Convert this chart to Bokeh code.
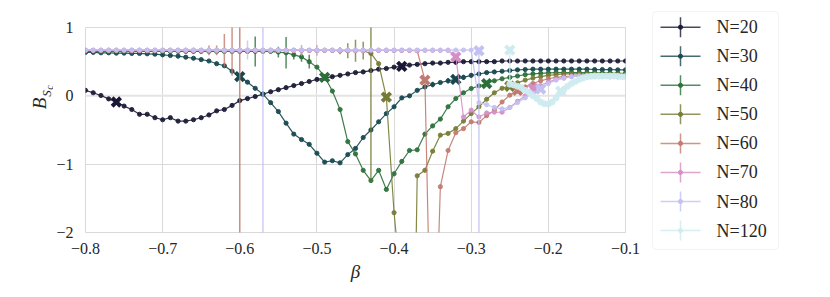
import numpy as np
from bokeh.plotting import figure
from bokeh.layouts import row, column
from bokeh.models import ColumnDataSource, Span, FixedTicker, Range1d, BoxAnnotation
from bokeh.embed import file_html
from bokeh.resources import INLINE
from bokeh.core.properties import value

# ---------------- data ----------------
BETA = [round(-0.80 + 0.01 * i, 2) for i in range(71)]   # beta grid -0.80 ... -0.10

B20 = [0.08, 0.045, 0.005, -0.045, -0.09, -0.15, -0.20, -0.27, -0.27, -0.32,
       -0.35, -0.32, -0.37, -0.37, -0.35, -0.32, -0.28, -0.22, -0.20, -0.14,
       -0.07, -0.04, -0.01, 0.025, 0.06, 0.09, 0.12, 0.15, 0.18, 0.21,
       0.24, 0.26, 0.28, 0.30, 0.32, 0.34, 0.35, 0.37, 0.39, 0.40,
       0.42, 0.43, 0.45, 0.46, 0.47, 0.48, 0.48, 0.49, 0.49, 0.50,
       0.50, 0.50, 0.50, 0.50, 0.51, 0.51, 0.51, 0.51, 0.51, 0.51,
       0.51, 0.51, 0.51, 0.51, 0.51, 0.51, 0.51, 0.51, 0.51, 0.51, 0.51]
B30 = [0.635, 0.635, 0.63, 0.63, 0.625, 0.625, 0.62, 0.62, 0.615, 0.61,
       0.60, 0.59, 0.58, 0.565, 0.55, 0.53, 0.51, 0.47, 0.44, 0.36,
       0.28, 0.20, 0.11, 0.025, -0.10, -0.23, -0.40, -0.56, -0.64, -0.71,
       -0.84, -0.97, -0.95, -0.98, -0.86, -0.77, -0.61, -0.50, -0.38, -0.26,
       -0.16, -0.03, 0.0, 0.08, 0.13, 0.165, 0.195, 0.22, 0.24, 0.27,
       0.30, 0.32, 0.34, 0.35, 0.36, 0.37, 0.38, 0.385, 0.39, 0.39,
       0.39, 0.39, 0.39, 0.39, 0.39, 0.39, 0.385, 0.385, 0.385, 0.38, 0.38]
B40 = [0.65] * 20 + \
      [0.65, 0.65, 0.65, 0.65, 0.65, 0.64, 0.63, 0.60, 0.57, 0.50,
       0.42, 0.28, 0.07, -0.20, -0.67, -0.85, -1.09, -1.24, -1.09, -1.37,
       -1.14, -0.96, -0.80, -0.79, -0.56, -0.44, -0.34, -0.16, -0.04, 0.045,
       0.107, 0.146, 0.18, 0.22, 0.25, 0.27, 0.29, 0.31, 0.32, 0.33,
       0.335, 0.34, 0.34, 0.34, 0.34, 0.34, 0.34, 0.335, 0.335, 0.33, 0.33]
B50 = [0.665] * 30 + \
      [0.665, 0.665, 0.665, 0.66, 0.66, 0.66, 0.66, 0.62, 0.47, -0.02,
       -1.71, -2.9, -8.0, -1.17, -1.09, -0.81, -0.575, -0.55, -0.48, -0.37,
       -0.26, -0.16, -0.05, 0.045, 0.11, 0.15, 0.19, 0.23, 0.26, 0.28,
       0.30, 0.31, 0.32, 0.32, 0.32, 0.32, 0.32, 0.31, 0.31, 0.31, 0.31]
B60 = [0.665] * 40 + \
      [0.665, 0.665, 0.665, 0.66, 0.23, -4.96, -1.33, -0.80, -0.54, -0.48,
       -0.38, -0.39, -0.29, -0.21, -0.09, 0.01, 0.07, 0.13, 0.18, 0.22,
       0.25, 0.27, 0.28, 0.29, 0.29, 0.29, 0.29, 0.29, 0.28, 0.28, 0.28]
B70 = [0.665] * 48 + \
      [0.58, -0.31, -0.21, -0.31, -0.25, -0.24, -0.24, -0.17, -0.08, 0.0, 0.08, 0.15,
       0.20, 0.24, 0.26, 0.28, 0.29, 0.29, 0.29, 0.29, 0.28, 0.28, 0.28]
B80 = [0.67] * 51 + \
      [-0.10, -0.13, -0.17, -0.19, -0.17, -0.10, -0.03, 0.04, 0.11,
       0.18, 0.23, 0.26, 0.28, 0.29, 0.29, 0.29, 0.29, 0.28, 0.28, 0.28]

BETA120 = [-0.25, -0.245, -0.24, -0.235, -0.23, -0.225, -0.22, -0.215, -0.21, -0.205,
           -0.20, -0.195, -0.19, -0.185, -0.18, -0.175, -0.17, -0.165, -0.16, -0.155,
           -0.15, -0.145, -0.14, -0.135, -0.13, -0.125, -0.12, -0.115, -0.11, -0.105, -0.10]
B120 = [0.17, 0.16, 0.14, 0.12, 0.08, 0.05, 0.0, -0.04, -0.09, -0.115,
        -0.12, -0.09, -0.03, 0.04, 0.09, 0.14, 0.18, 0.21, 0.24, 0.26,
        0.28, 0.285, 0.29, 0.29, 0.29, 0.29, 0.29, 0.29, 0.285, 0.28, 0.28]

# error bars: beta -> (down, up)
E20 = {}
E30 = {-0.35: (0.04, 0.04), -0.33: (0.04, 0.04), -0.31: (0.04, 0.04), -0.30: (0.03, 0.03)}
E40 = {-0.58: (0.22, 0.22), -0.55: (0.08, 0.08), -0.54: (0.23, 0.23), -0.53: (0.07, 0.07),
       -0.52: (0.07, 0.07), -0.51: (0.10, 0.10)}
E50 = {-0.47: (0.05, 0.05), -0.46: (0.11, 0.11), -0.45: (0.16, 0.16), -0.44: (0.13, 0.13),
       -0.43: (1.86, 1.86)}
E60 = {-0.64: (0.07, 0.07), -0.63: (0.07, 0.07), -0.62: (0.24, 0.24), -0.61: (0.37, 0.37),
       -0.60: (3.0, 3.0)}
E70 = {-0.52: (0.08, 0.08), -0.50: (0.08, 0.08)}
E80 = {-0.59: (0.14, 0.14), -0.57: (3.0, 3.0), -0.29: (2.6, 0.76)}
E120 = {-0.25: (0.0, 0.49)}

# critical-point markers (beta, B)
XM20 = ([-0.76, -0.39], [-0.09, 0.43])
XM30 = ([-0.60, -0.32], [0.28, 0.24])
XM40 = ([-0.49, -0.28], [0.27, 0.18])
XM50 = ([-0.41, -0.25], [-0.02, 0.14])
XM60 = ([-0.36, -0.24], [0.23, 0.08])
XM70 = ([-0.32, -0.22], [0.57, 0.11])
XM80 = ([-0.29, -0.21], [0.66, 0.10])
XM120 = ([-0.25, -0.184], [0.67, 0.07])

LABELS = ["N=20", "N=30", "N=40", "N=50", "N=60", "N=70", "N=80", "N=120"]
COLORS = ["#1a1935", "#15474e", "#2b6f39", "#767b33", "#c17a6f", "#d490c6", "#c3c0f2", "#ceebef"]

XTICKS = [-0.8, -0.7, -0.6, -0.5, -0.4, -0.3, -0.2, -0.1]
XTICK_LABELS = ["\u22120.8", "\u22120.7", "\u22120.6", "\u22120.5", "\u22120.4", "\u22120.3", "\u22120.2", "\u22120.1"]
YTICKS = [-2, -1, 0, 1]
YTICK_LABELS = ["\u22122", "\u22121", "0", "1"]
YLABEL_PARTS = ["B", "S", "c"]   # B_{S_c}

SERIES = [
    (BETA, B20, E20, XM20),
    (BETA, B30, E30, XM30),
    (BETA, B40, E40, XM40),
    (BETA, B50, E50, XM50),
    (BETA, B60, E60, XM60),
    (BETA, B70, E70, XM70),
    (BETA, B80, E80, XM80),
    (BETA120, B120, E120, XM120),
]

FONT = "serif"
TXT = "#262626"
GRID = "#d9d9d9"
TOP, FH, BOT = 27, 205, 55
PYU = 3.0 / FH          # y data units per pixel
STRIP_W = 53

# ---------------- y-label strip (shares the vertical frame of the plot) ----------------
yl = figure(title=None, frame_width=STRIP_W, frame_height=FH, min_border_left=0, min_border_right=0,
            min_border_top=TOP, min_border_bottom=BOT,
            x_range=Range1d(0, STRIP_W), y_range=Range1d(-2, 1),
            output_backend="svg", toolbar_location=None)
yl.axis.visible = False
yl.grid.visible = False
yl.outline_line_color = None
yl.text(x=[39, 45.5, 48.5], y=[1 - (103 - TOP) * PYU, 1 - (93 - TOP) * PYU, 1 - (87 - TOP) * PYU],
        text=YLABEL_PARTS, angle=np.pi / 2,
        text_font=value(FONT), text_font_style="italic",
        text_font_size=["19px", "13px", "10px"], text_align="center", text_baseline="middle",
        text_color=TXT)

# ---------------- main figure ----------------
p = figure(title=None, frame_width=540, frame_height=FH,
           min_border_left=85 - STRIP_W, min_border_right=23, min_border_top=TOP, min_border_bottom=BOT,
           x_range=Range1d(-0.8, -0.1), y_range=Range1d(-2, 1),
           output_backend="svg", toolbar_location=None)
p.background_fill_color = "white"
p.border_fill_color = "white"
p.outline_line_color = GRID
p.outline_line_width = 1

for ax in (p.xaxis, p.yaxis):
    ax.axis_line_color = None
    ax.major_tick_line_color = None
    ax.minor_tick_line_color = None
    ax.major_label_text_font_size = "16px"
    ax.major_label_text_color = TXT
    ax.major_label_text_font = FONT
p.xaxis.ticker = FixedTicker(ticks=XTICKS)
p.xaxis.major_label_overrides = dict(zip(XTICKS, XTICK_LABELS))
p.yaxis.ticker = FixedTicker(ticks=YTICKS)
p.yaxis.major_label_overrides = dict(zip(YTICKS, YTICK_LABELS))
p.xaxis.major_label_standoff = 4
p.yaxis.major_label_standoff = 6
p.xaxis.axis_label = "\u03b2"
p.xaxis.axis_label_text_font = FONT
p.xaxis.axis_label_text_font_style = "italic"
p.xaxis.axis_label_text_font_size = "19px"
p.xaxis.axis_label_text_color = TXT
p.xaxis.axis_label_standoff = 4
p.grid.grid_line_color = GRID
p.grid.grid_line_width = 1
p.xgrid.ticker = FixedTicker(ticks=XTICKS)
p.ygrid.ticker = FixedTicker(ticks=YTICKS)
p.add_layout(Span(location=0, dimension="width", line_color="#e4e4e4", line_width=2, level="underlay"))

for (xs, ys, errs, xm), color in zip(SERIES, COLORS):
    src = ColumnDataSource(dict(x=xs, y=ys))
    big = color == "#ceebef"
    p.line("x", "y", source=src, line_color=color, line_width=2.5 if big else 1.2, line_alpha=0.9)
    p.scatter("x", "y", source=src, size=6 if big else 4.2, fill_color=color, line_color=color, alpha=0.9)
    ex = list(errs.keys())
    lo = [ys[xs.index(b)] - errs[b][0] for b in ex]
    hi = [ys[xs.index(b)] + errs[b][1] for b in ex]
    if ex:
        p.segment(x0=ex, y0=lo, x1=ex, y1=hi, line_color=color, line_width=1.5, line_alpha=0.8)
    p.scatter(xm[0], xm[1], marker="x", size=12, line_width=4, line_color=color)

# ---------------- legend figure ----------------
lg = figure(title=None, frame_width=130, frame_height=240, min_border_left=2, min_border_right=8,
            min_border_top=10, min_border_bottom=37,
            x_range=Range1d(0, 130), y_range=Range1d(0, 240),
            output_backend="svg", toolbar_location=None)
lg.axis.visible = False
lg.grid.visible = False
lg.outline_line_color = None
lg.background_fill_color = "white"
lg.border_fill_color = "white"
lg.add_layout(BoxAnnotation(left=2, right=128, bottom=1, top=239, fill_color="white", fill_alpha=1,
                            line_color="#d6d6d6", line_width=1, border_radius=4, level="underlay"))
item_y = [223.3 - 29.05 * i for i in range(len(LABELS))]
for yv, color in zip(item_y, COLORS):
    lg.segment(x0=[10], y0=[yv], x1=[50], y1=[yv], line_color=color, line_width=1.5, line_alpha=0.8)
    lg.segment(x0=[30], y0=[yv - 10], x1=[30], y1=[yv + 10], line_color=color, line_width=1.5, line_alpha=0.8)
    lg.scatter([30], [yv], size=4.2, fill_color=color, line_color=color, alpha=0.9)
lg.text(x=[66] * len(LABELS), y=item_y, text=LABELS, text_font=value(FONT), text_font_size="18px",
        text_baseline="middle", text_align="left", text_color=TXT)

layout = row(yl, p, column(lg))
open("out.html", "w").write(file_html(layout, INLINE))
